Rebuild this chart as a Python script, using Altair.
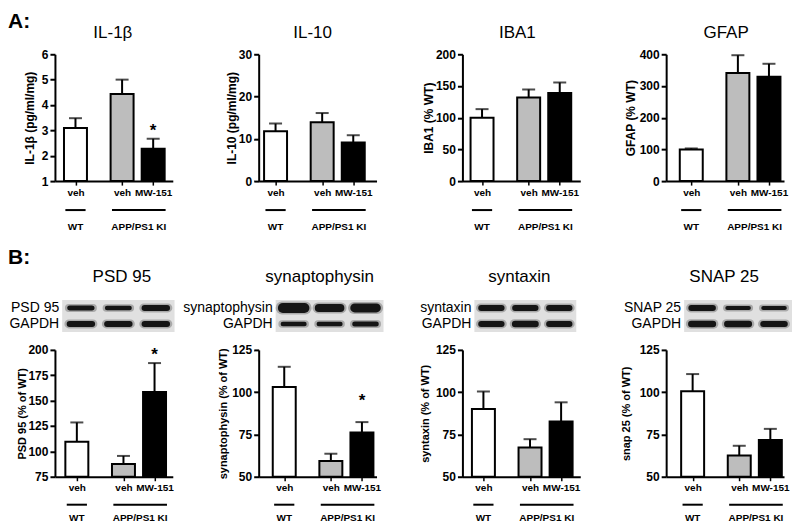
import altair as alt
import pandas as pd

FONT = "Liberation Sans"

# ---------------- data ----------------
treatments = ["WT veh", "KI veh", "KI MW-151"]
x_labels = ["veh", "veh", "MW-151"]
genotypes = ["WT", "APP/PS1 KI", "APP/PS1 KI"]
fills = ["#ffffff", "#bdbdbd", "#000000"]

il1b_mean = [3.09, 4.43, 2.28]
il1b_err = [0.39, 0.57, 0.39]
il1b_star = [None, None, 3.12]

il10_mean = [11.8, 13.9, 9.15]
il10_err = [1.8, 2.2, 1.7]

iba1_mean = [100, 132, 139]
iba1_err = [13.5, 12.5, 16.5]

gfap_mean = [100, 341, 329]
gfap_err = [3, 56, 41]

psd95_mean = [109.5, 87.5, 158.5]
psd95_err = [19, 8, 28.5]
psd95_star = [None, None, 199]

syp_mean = [103, 59.3, 76.2]
syp_err = [12, 4.3, 6.1]
syp_star = [None, None, 97]

stx_mean = [90, 67.3, 82.6]
stx_err = [10.4, 4.9, 11.4]

snap_mean = [100.6, 62.6, 71.7]
snap_err = [10.1, 5.7, 6.6]

# western blot band densities (relative band thickness per lane)
psd95_band = [5, 4.5, 6]
psd95_gapdh = [6, 6, 6]
syp_band = [10, 8, 9]
syp_gapdh = [4.5, 4.5, 5]
stx_band = [6, 6, 6]
stx_gapdh = [6, 6.5, 6]
snap_band = [6, 4, 4]
snap_gapdh = [6.5, 6.5, 6]

# ---------------- layout ----------------
W = 118
H1 = 127
H2 = 133
H3 = 127
UNIT = 17          # px per category slot
SLOTS = [0, 3, 5]  # WT | gap | veh, MW-151
BAR = 23
LEFTS = [55, 259, 463, 667]
COLSP = 86
ROWSP = 18


def group_table():
    rows = []
    for g in dict.fromkeys(genotypes):
        idx = [i for i, gg in enumerate(genotypes) if gg == g]
        s = min(SLOTS[i] for i in idx) - 0.65
        e = max(SLOTS[i] for i in idx) + (0.65 if len(idx) == 1 else 0.8)
        rows.append({"geno": g, "start": s, "end": e, "mid": (s + e) / 2})
    return pd.DataFrame(rows)


def text_at(t, x, y, size, weight="normal", align="center", baseline="middle"):
    return alt.Chart(pd.DataFrame({"t": [t]})).mark_text(
        fontSize=size, fontWeight=weight, align=align, baseline=baseline,
        color="black").encode(text="t:N", x=alt.value(x), y=alt.value(y))


def bar_panel(H, ytitle, ydom, yticks, means, errs, stars, wt_off, tpad,
              tsize, line_dy, text_dy, extra=()):
    top = [m + e for m, e in zip(means, errs)]
    df = pd.DataFrame({
        "treat": treatments, "lab": x_labels, "geno": genotypes,
        "mean": means, "top": top,
        "star": stars if stars else [None] * len(means),
        "slot": SLOTS,
    })
    lo = -wt_off / UNIT
    xs = alt.Scale(domain=[lo, lo + W / UNIT], nice=False, zero=False)
    ys = alt.Scale(domain=ydom, nice=False, zero=False)
    label_expr = " : ".join(
        f"datum.value == {s} ? '{l}'" for s, l in zip(SLOTS, x_labels)) + " : ''"
    xaxis = alt.Axis(values=SLOTS, labelExpr=label_expr, title=None, grid=False,
                     tickSize=4, tickWidth=1.5, domainWidth=2, labelFontSize=10,
                     labelFontWeight="bold", labelPadding=2)
    yaxis = alt.Axis(values=yticks, title=ytitle, titleFontSize=tsize,
                     titleFontWeight="bold", titlePadding=tpad, labelFontSize=12,
                     labelFontWeight="bold", tickSize=5, tickWidth=2,
                     domainWidth=2, grid=False, labelPadding=2)
    base = alt.Chart(df)
    X = alt.X("slot:Q", scale=xs, axis=xaxis)
    bars = base.mark_bar(size=BAR, stroke="black", strokeWidth=2).encode(
        x=X, y=alt.Y("mean:Q", scale=ys, axis=yaxis), y2=alt.datum(ydom[0]),
        fill=alt.Fill("treat:N", scale=alt.Scale(domain=treatments, range=fills),
                      legend=None))
    err = base.mark_rule(strokeWidth=2, color="black").encode(
        x=X, y=alt.Y("mean:Q", scale=ys, axis=yaxis), y2="top:Q")
    cap = base.mark_tick(orient="horizontal", size=13, thickness=2,
                         color="black").encode(
        x=X, y=alt.Y("top:Q", scale=ys, axis=yaxis))
    star = base.transform_filter("isValid(datum.star)").mark_text(
        text="*", fontSize=17, fontWeight="bold", dy=4, color="black").encode(
        x=X, y=alt.Y("star:Q", scale=ys, axis=yaxis))
    gdf = group_table()
    lines = alt.Chart(gdf).mark_rule(strokeWidth=2, color="black").encode(
        x=alt.X("start:Q", scale=xs, axis=xaxis), x2="end:Q",
        y=alt.value(H + line_dy))
    gtext = alt.Chart(gdf).mark_text(fontSize=10, fontWeight="bold",
                                     baseline="middle", color="black").encode(
        x=alt.X("mid:Q", scale=xs, axis=xaxis), y=alt.value(H + text_dy),
        text="geno:N")
    return alt.layer(bars, err, cap, star, lines, gtext, *extra).properties(
        width=W, height=H)


def blot_panel(col, title, protein, dens_p, dens_g, c0, d, title_dx, extra=()):
    L = LEFTS[col]
    rows = []
    for name, dens, yrow in ((protein, dens_p, 1.5), ("GAPDH", dens_g, 0.5)):
        for lane, v in enumerate(dens):
            rows.append({"row": name, "lane": lane, "y": yrow, "dens": v})
    bands = pd.DataFrame(rows)
    labs = pd.DataFrame({"row": [protein, "GAPDH"], "y": [1.5, 0.5],
                         "x0": [-0.5, -0.5]})
    bgdf = pd.DataFrame({"x0": [-0.5], "x1": [2.5], "y0": [0], "y1": [2]})
    xs = alt.Scale(domain=[(L - c0) / d, (L + W - c0) / d], nice=False, zero=False)
    ys = alt.Scale(domain=[0, H2 / 16], nice=False, zero=False)
    bg = alt.Chart(bgdf).mark_rect(color="#e0e0e0").encode(
        x=alt.X("x0:Q", scale=xs, axis=None), x2="x1:Q",
        y=alt.Y("y0:Q", scale=ys, axis=None), y2="y1:Q")
    halo = alt.Chart(bands).transform_calculate(
        xa="datum.lane - 0.32", xb="datum.lane + 0.32", w="datum.dens + 3"
    ).mark_rule(color="#666666", opacity=0.45, strokeCap="round").encode(
        x=alt.X("xa:Q", scale=xs, axis=None), x2="xb:Q",
        y=alt.Y("y:Q", scale=ys, axis=None),
        strokeWidth=alt.StrokeWidth("w:Q", scale=None, legend=None))
    band = alt.Chart(bands).transform_calculate(
        xa="datum.lane - 0.3", xb="datum.lane + 0.3"
    ).mark_rule(color="#151515", strokeCap="round").encode(
        x=alt.X("xa:Q", scale=xs, axis=None), x2="xb:Q",
        y=alt.Y("y:Q", scale=ys, axis=None),
        strokeWidth=alt.StrokeWidth("dens:Q", scale=None, legend=None))
    lab = alt.Chart(labs).mark_text(align="right", baseline="middle",
                                    fontSize=14, dx=-3, color="black").encode(
        x=alt.X("x0:Q", scale=xs, axis=None),
        y=alt.Y("y:Q", scale=ys, axis=None), text="row:N")
    ttl = text_at(title, W / 2 + title_dx, 78, 17)
    return alt.layer(bg, halo, band, lab, ttl, *extra).properties(
        width=W, height=H2)


def title_mark(t, dx):
    return text_at(t, W / 2 + dx, -21, 17)


# ---------------- row A ----------------
a1 = bar_panel(H1, "IL-1β (pg/ml/mg)", [1, 6], [1, 2, 3, 4, 5, 6],
               il1b_mean, il1b_err, il1b_star, 17, 5, 12, 29, 46,
               extra=(title_mark("IL-1β", -1),
                      text_at("A:", -47, -43, 21, "bold", "left", "top")))
a2 = bar_panel(H1, "IL-10 (pg/ml/mg)", [0, 30], [0, 10, 20, 30],
               il10_mean, il10_err, None, 13, 0, 12, 29, 46,
               extra=(title_mark("IL-10", -5),))
a3 = bar_panel(H1, "IBA1  (% WT)", [0, 200], [0, 50, 100, 150, 200],
               iba1_mean, iba1_err, None, 16, 0, 12, 29, 46,
               extra=(title_mark("IBA1", -4),))
a4 = bar_panel(H1, "GFAP  (% WT)", [0, 400], [0, 100, 200, 300, 400],
               gfap_mean, gfap_err, None, 22, 2, 12, 29, 46,
               extra=(title_mark("GFAP", 1),))

# ---------------- blots ----------------
b1 = blot_panel(0, "PSD 95", "PSD 95", psd95_band, psd95_gapdh, 81, 37.5, 8,
                extra=(text_at("B:", -47, 48, 21, "bold", "left", "top"),))
b2 = blot_panel(1, "synaptophysin", "synaptophysin", syp_band, syp_gapdh, 294, 36, 2)
b3 = blot_panel(2, "syntaxin", "syntaxin", stx_band, stx_gapdh, 492, 34, -2)
b4 = blot_panel(3, "SNAP 25", "SNAP 25", snap_band, snap_gapdh, 703, 36, -1)

# ---------------- row B bars ----------------
c1 = bar_panel(H3, "PSD 95 (% of WT)", [75, 200], [75, 100, 125, 150, 175, 200],
               psd95_mean, psd95_err, psd95_star, 18.5, 0, 11, 28, 41)
c2 = bar_panel(H3, "synaptophysin (% of WT)", [50, 125], [50, 75, 100, 125],
               syp_mean, syp_err, syp_star, 22.5, 3, 11, 28, 41)
c3 = bar_panel(H3, "syntaxin (% of WT)", [50, 125], [50, 75, 100, 125],
               stx_mean, stx_err, None, 17.5, 5, 11, 28, 41)
c4 = bar_panel(H3, "snap 25 (% of WT)", [50, 125], [50, 75, 100, 125],
               snap_mean, snap_err, None, 23.5, 8, 11, 28, 41)

chart = alt.concat(
    a1, a2, a3, a4, b1, b2, b3, b4, c1, c2, c3, c4,
    columns=4, spacing={"row": ROWSP, "column": COLSP},
    bounds="flush", align="each",
).properties(
    padding={"left": 0, "top": 3, "right": 0, "bottom": 0}, background="white"
).configure_view(stroke=None).configure_axis(
    labelFont=FONT, titleFont=FONT, labelColor="black", titleColor="black",
    domainColor="black", tickColor="black"
).configure_text(font=FONT).configure_title(font=FONT, color="black")

chart.save("out.html", embed_options={"renderer": "svg", "actions": False})
